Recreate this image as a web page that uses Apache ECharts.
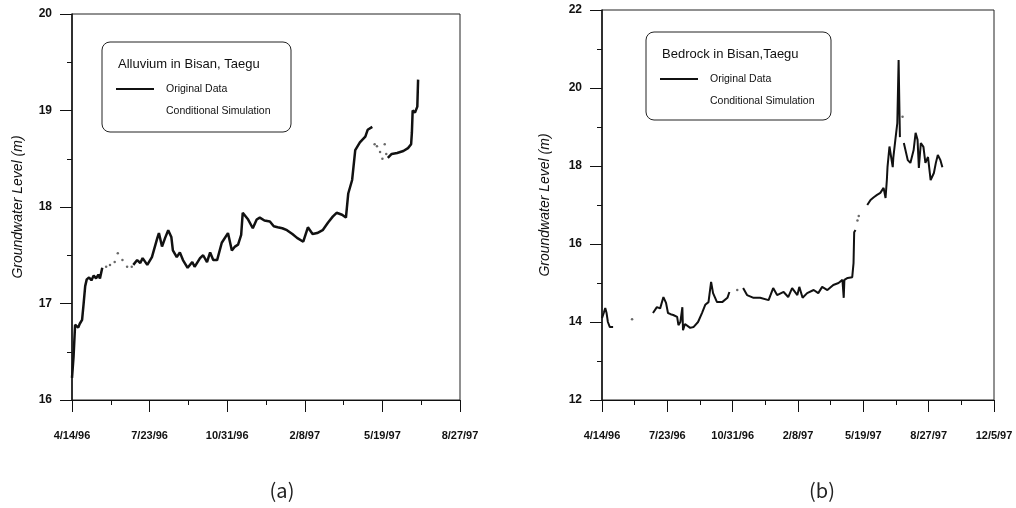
<!DOCTYPE html>
<html>
<head>
<meta charset="utf-8">
<title>Groundwater level - Bisan, Taegu</title>
<script src="https://cdn.jsdelivr.net/npm/echarts@6/dist/echarts.min.js"></script>
<style>
  html, body { margin: 0; padding: 0; background: #fff; }
  #main { width: 1016px; height: 508px; }
</style>
</head>
<body>
<div id="main"></div>
<script>
// x values are days counted from 4/14/96, ticks every 100 days
var leftTickLabels = ['4/14/96', '7/23/96', '10/31/96', '2/8/97', '5/19/97', '8/27/97'];
var rightTickLabels = ['4/14/96', '7/23/96', '10/31/96', '2/8/97', '5/19/97', '8/27/97', '12/5/97'];

// (a) alluvium - observed record, gaps marked with '-'
var alluviumObserved = [
  [0, 16.23], [2, 16.45], [4, 16.78], [6, 16.76], [8, 16.75], [10, 16.79], [13, 16.83], [15, 17.0],
  [17, 17.18], [19, 17.25], [22, 17.27], [25, 17.24], [28, 17.29], [31, 17.26], [34, 17.3], [36, 17.26], [39, 17.37],
  ['-', '-'],
  [79, 17.40], [84, 17.45], [88, 17.42], [91, 17.47], [97, 17.40], [103, 17.48], [110, 17.68], [112, 17.73],
  [116, 17.59], [120, 17.68], [124, 17.76], [128, 17.69], [130, 17.55], [135, 17.48], [139, 17.53], [143, 17.45],
  [149, 17.37], [155, 17.43], [158, 17.38], [165, 17.47], [169, 17.50], [174, 17.43], [178, 17.53], [182, 17.45],
  [187, 17.45], [193, 17.63], [201, 17.73], [206, 17.55], [210, 17.59], [214, 17.61], [218, 17.71], [220, 17.94],
  [227, 17.87], [233, 17.78], [238, 17.87], [242, 17.89], [248, 17.86], [255, 17.85], [260, 17.80], [265, 17.79],
  [271, 17.78], [277, 17.76], [284, 17.72], [290, 17.68], [298, 17.64], [304, 17.79], [310, 17.72], [316, 17.73],
  [323, 17.76], [330, 17.84], [336, 17.90], [341, 17.94], [348, 17.92], [353, 17.89], [356, 18.14], [361, 18.28],
  [365, 18.59], [371, 18.67], [378, 18.73], [381, 18.80], [387, 18.83],
  ['-', '-'],
  [407, 18.51], [412, 18.55], [419, 18.56], [427, 18.58], [433, 18.61], [437, 18.65], [438, 18.77], [439, 19.0],
  [442, 18.98], [445, 19.04], [446, 19.32]
];
// (a) alluvium - conditional simulation (faint dots in the gaps)
var alluviumSimulated = [
  [44, 17.38], [49, 17.40], [55, 17.43], [59, 17.52], [65, 17.45], [71, 17.38], [77, 17.38],
  [390, 18.65], [393, 18.63], [397, 18.57], [400, 18.50], [403, 18.65], [405, 18.55]
];

// (b) bedrock - observed record
var bedrockObserved = [
  [0, 14.1], [3, 14.25], [5, 14.36], [7, 14.23], [9, 14.0], [12, 13.87], [17, 13.87],
  ['-', '-'],
  [78, 14.23], [84, 14.38], [89, 14.35], [94, 14.64], [98, 14.49], [101, 14.23], [105, 14.2], [109, 14.18],
  [115, 14.13], [117, 13.92], [120, 14.0], [123, 14.38], [124, 13.79], [127, 13.95], [130, 13.92], [135, 13.85],
  [140, 13.87], [147, 14.0], [153, 14.23], [158, 14.44], [163, 14.51], [167, 15.03], [170, 14.74], [176, 14.51],
  [184, 14.51], [192, 14.62], [195, 14.77],
  ['-', '-'],
  [216, 14.87], [222, 14.69], [232, 14.62], [242, 14.62], [255, 14.56], [262, 14.87], [268, 14.69], [278, 14.77],
  [285, 14.64], [291, 14.87], [299, 14.69], [302, 14.90], [307, 14.62], [314, 14.74], [324, 14.82], [331, 14.74],
  [337, 14.90], [345, 14.82], [354, 14.95], [362, 15.0], [368, 15.08], [370, 14.62], [371, 15.08], [376, 15.13],
  [383, 15.15], [385, 15.51], [386, 16.3], [388, 16.36],
  ['-', '-'],
  [406, 17.0], [411, 17.13], [416, 17.2], [421, 17.26], [426, 17.31], [431, 17.44], [434, 17.18], [436, 17.64],
  [437, 17.97], [440, 18.5], [445, 17.97], [446, 18.23], [449, 18.67], [452, 19.1], [454, 20.72], [455, 19.69], [456, 18.74],
  ['-', '-'],
  [462, 18.59], [468, 18.15], [472, 18.08], [475, 18.03], [477, 18.41], [480, 18.85], [483, 18.67], [485, 17.95],
  [488, 18.59], [492, 18.49], [495, 18.08], [499, 18.23], [503, 17.64], [508, 17.82], [511, 18.08], [514, 18.28],
  [518, 18.15], [521, 17.97]
];
var bedrockSimulated = [[46, 14.07], [207, 14.82], [391, 16.6], [393, 16.72], [460, 19.26]];

var chart = echarts.init(document.getElementById('main'));
var FONT = 'Liberation Sans, Arial, sans-serif';

function xAxisCfg(idx, max, labels) {
  return {
    type: 'value', gridIndex: idx, min: 0, max: max, interval: 100,
    axisLine: { show: true, lineStyle: { color: '#111', width: 1 } },
    axisTick: { show: true, inside: false, length: 12, lineStyle: { color: '#111' } },
    minorTick: { show: true, splitNumber: 2, length: 5, lineStyle: { color: '#111' } },
    splitLine: { show: false },
    axisLabel: {
      margin: 30, color: '#111', fontSize: 11, fontWeight: 'bold', fontFamily: FONT,
      formatter: function (v) { return labels[Math.round(v / 100)]; }
    }
  };
}
function yAxisCfg(idx, min, max, step, gap) {
  return {
    type: 'value', gridIndex: idx, min: min, max: max, interval: step,
    name: 'Groundwater Level (m)', nameLocation: 'middle', nameGap: gap,
    nameTextStyle: { fontStyle: 'italic', fontSize: 14, color: '#111', fontFamily: FONT },
    axisLine: { show: true, lineStyle: { color: '#111', width: 1.5 } },
    axisTick: { show: true, inside: false, length: 12, lineStyle: { color: '#111' } },
    minorTick: { show: true, splitNumber: 2, length: 5, lineStyle: { color: '#111' } },
    splitLine: { show: false },
    axisLabel: { margin: 20, color: '#111', fontSize: 12, fontWeight: 'bold', fontFamily: FONT }
  };
}

function legendBox(x, y, w, h, title) {
  return [
    { type: 'rect', shape: { x: x, y: y, width: w, height: h, r: 8 },
      style: { fill: 'none', stroke: '#222', lineWidth: 1 } },
    { type: 'text', x: x + 16, y: y + 22,
      style: { text: title, font: '13px ' + FONT, fill: '#111', verticalAlign: 'middle' } },
    { type: 'line', shape: { x1: x + 14, y1: y + 47, x2: x + 52, y2: y + 47 },
      style: { stroke: '#111', lineWidth: 2 } },
    { type: 'text', x: x + 64, y: y + 47,
      style: { text: 'Original Data', font: '10.5px ' + FONT, fill: '#111', verticalAlign: 'middle' } },
    { type: 'text', x: x + 64, y: y + 69,
      style: { text: 'Conditional Simulation', font: '10.5px ' + FONT, fill: '#111', verticalAlign: 'middle' } }
  ];
}

var option = {
  backgroundColor: '#fff',
  animation: false,
  grid: [
    { left: 72, top: 14, width: 388, height: 386, show: true, borderColor: '#222', borderWidth: 1, backgroundColor: 'transparent' },
    { left: 602, top: 10, width: 392, height: 390, show: true, borderColor: '#222', borderWidth: 1, backgroundColor: 'transparent' }
  ],
  xAxis: [xAxisCfg(0, 500, leftTickLabels), xAxisCfg(1, 600, rightTickLabels)],
  yAxis: [yAxisCfg(0, 16, 20, 1, 47), yAxisCfg(1, 12, 22, 2, 50)],
  series: [
    { name: 'Original Data', type: 'line', xAxisIndex: 0, yAxisIndex: 0, data: alluviumObserved,
      showSymbol: false, connectNulls: false, lineStyle: { color: '#111', width: 2.5 } },
    { name: 'Conditional Simulation', type: 'scatter', xAxisIndex: 0, yAxisIndex: 0, data: alluviumSimulated,
      symbolSize: 2.5, itemStyle: { color: '#444' } },
    { name: 'Original Data', type: 'line', xAxisIndex: 1, yAxisIndex: 1, data: bedrockObserved,
      showSymbol: false, connectNulls: false, lineStyle: { color: '#111', width: 2 } },
    { name: 'Conditional Simulation', type: 'scatter', xAxisIndex: 1, yAxisIndex: 1, data: bedrockSimulated,
      symbolSize: 2.5, itemStyle: { color: '#444' } }
  ],
  graphic: legendBox(102, 42, 189, 90, 'Alluvium in Bisan, Taegu')
    .concat(legendBox(646, 32, 185, 88, 'Bedrock in Bisan,Taegu'))
    .concat([
      { type: 'text', x: 282, y: 490, style: { text: '(a)', font: '20px "Noto Sans CJK KR"', fill: '#222', align: 'center', verticalAlign: 'middle' } },
      { type: 'text', x: 822, y: 490, style: { text: '(b)', font: '20px "Noto Sans CJK KR"', fill: '#222', align: 'center', verticalAlign: 'middle' } }
    ])
};
chart.setOption(option);
</script>
</body>
</html>
